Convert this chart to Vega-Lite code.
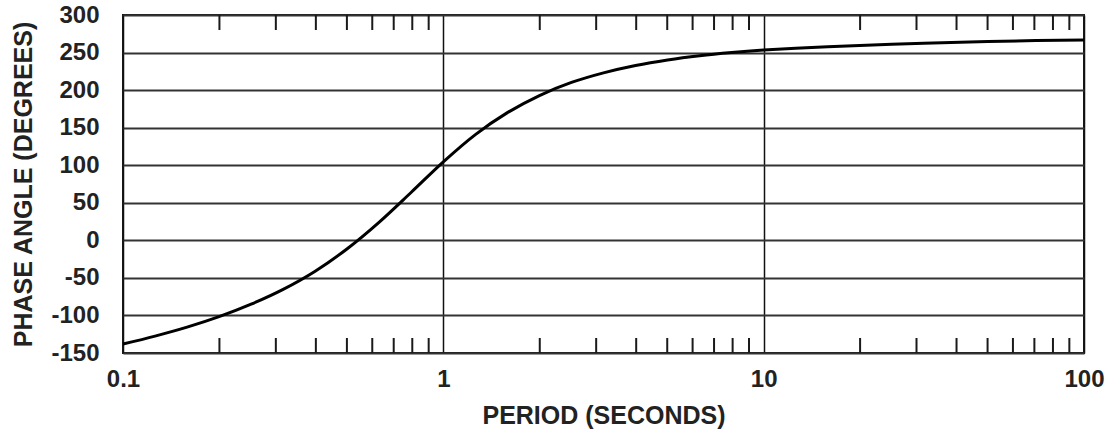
{
  "$schema": "https://vega.github.io/schema/vega-lite/v6.json",
  "width": 961,
  "height": 338,
  "autosize": {"type": "none"},
  "padding": {"left": 123, "top": 15, "right": 21, "bottom": 80},
  "background": "white",
  "config": {
    "view": {"stroke": "#1a1a1a", "strokeWidth": 2},
    "font": "Liberation Sans",
    "axis": {"labelOverlap": false}
  },
  "datasets": {
    "curve": [
      {"period": 0.1, "phase": -138},
      {"period": 0.1259, "phase": -127.5},
      {"period": 0.1585, "phase": -115.6},
      {"period": 0.1995, "phase": -101.6},
      {"period": 0.2512, "phase": -85.0},
      {"period": 0.3162, "phase": -65.3},
      {"period": 0.3981, "phase": -41.1},
      {"period": 0.5012, "phase": -11.2},
      {"period": 0.631, "phase": 24.3},
      {"period": 0.7943, "phase": 64.0},
      {"period": 1.0, "phase": 104.5},
      {"period": 1.259, "phase": 140.8},
      {"period": 1.585, "phase": 170.0},
      {"period": 1.995, "phase": 192.8},
      {"period": 2.512, "phase": 210.2},
      {"period": 3.162, "phase": 223.0},
      {"period": 3.981, "phase": 232.8},
      {"period": 5.012, "phase": 240.2},
      {"period": 6.31, "phase": 245.8},
      {"period": 7.943, "phase": 250.0},
      {"period": 10, "phase": 253.3},
      {"period": 12.59, "phase": 255.8},
      {"period": 15.85, "phase": 257.8},
      {"period": 19.95, "phase": 259.5},
      {"period": 25.12, "phase": 261.0},
      {"period": 31.62, "phase": 262.3},
      {"period": 50.12, "phase": 264.6},
      {"period": 70.8, "phase": 265.9},
      {"period": 100, "phase": 266.8}
    ],
    "minor": [
      {"period": 0.2}, {"period": 0.3}, {"period": 0.4}, {"period": 0.5}, {"period": 0.6}, {"period": 0.7}, {"period": 0.8}, {"period": 0.9},
      {"period": 2}, {"period": 3}, {"period": 4}, {"period": 5}, {"period": 6}, {"period": 7}, {"period": 8}, {"period": 9},
      {"period": 20}, {"period": 30}, {"period": 40}, {"period": 50}, {"period": 60}, {"period": 70}, {"period": 80}, {"period": 90}
    ]
  },
  "layer": [
    {
      "data": {"name": "curve"},
      "mark": {"type": "line", "color": "#000000", "strokeWidth": 3, "interpolate": "monotone"},
      "encoding": {
        "x": {
          "field": "period", "type": "quantitative",
          "scale": {"type": "log", "domain": [0.1, 100], "nice": false},
          "axis": {
            "values": [0.1, 1, 10, 100],
            "format": "~g",
            "grid": true, "gridColor": "#111111", "gridWidth": 1.5, "gridOpacity": 1,
            "ticks": false, "domain": false,
            "labelFont": "Liberation Sans", "labelFontWeight": "bold", "labelFontSize": 24,
            "labelColor": "#222222", "labelPadding": 14, "labelFlush": false, "labelOverlap": false,
            "title": "PERIOD (SECONDS)", "titleFont": "Liberation Sans", "titleFontWeight": "bold",
            "titleFontSize": 25, "titleColor": "#222222", "titlePadding": 12
          }
        },
        "y": {
          "field": "phase", "type": "quantitative",
          "scale": {"domain": [-150, 300], "nice": false, "zero": false},
          "axis": {
            "values": [-150, -100, -50, 0, 50, 100, 150, 200, 250, 300],
            "labelExpr": "datum.value + ''",
            "grid": true, "gridColor": "#333333", "gridWidth": 2, "gridOpacity": 1,
            "ticks": false, "domain": false,
            "labelFont": "Liberation Sans", "labelFontWeight": "bold", "labelFontSize": 24,
            "labelColor": "#222222", "labelPadding": 24, "labelOverlap": false, "labelBound": false,
            "title": "PHASE ANGLE (DEGREES)", "titleFont": "Liberation Sans", "titleFontWeight": "bold",
            "titleFontSize": 25, "titleColor": "#222222", "titlePadding": 14
          }
        }
      }
    },
    {
      "data": {"name": "minor"},
      "mark": {"type": "rule", "color": "#1a1a1a", "strokeWidth": 2},
      "encoding": {
        "x": {
          "field": "period", "type": "quantitative",
          "scale": {"type": "log", "domain": [0.1, 100], "nice": false},
          "axis": {
            "values": [0.1, 1, 10, 100],
            "format": "~g",
            "grid": true, "gridColor": "#111111", "gridWidth": 1.5, "gridOpacity": 1,
            "ticks": false, "domain": false,
            "labelFont": "Liberation Sans", "labelFontWeight": "bold", "labelFontSize": 24,
            "labelColor": "#222222", "labelPadding": 14, "labelFlush": false, "labelOverlap": false,
            "title": "PERIOD (SECONDS)", "titleFont": "Liberation Sans", "titleFontWeight": "bold",
            "titleFontSize": 25, "titleColor": "#222222", "titlePadding": 12
          }
        },
        "y": {
          "datum": 300, "type": "quantitative",
          "scale": {"domain": [-150, 300], "nice": false, "zero": false},
          "axis": {
            "values": [-150, -100, -50, 0, 50, 100, 150, 200, 250, 300],
            "labelExpr": "datum.value + ''",
            "grid": true, "gridColor": "#333333", "gridWidth": 2, "gridOpacity": 1,
            "ticks": false, "domain": false,
            "labelFont": "Liberation Sans", "labelFontWeight": "bold", "labelFontSize": 24,
            "labelColor": "#222222", "labelPadding": 24, "labelOverlap": false, "labelBound": false,
            "title": "PHASE ANGLE (DEGREES)", "titleFont": "Liberation Sans", "titleFontWeight": "bold",
            "titleFontSize": 25, "titleColor": "#222222", "titlePadding": 14
          }
        },
        "y2": {"datum": 280}
      }
    },
    {
      "data": {"name": "minor"},
      "mark": {"type": "rule", "color": "#1a1a1a", "strokeWidth": 2},
      "encoding": {
        "x": {
          "field": "period", "type": "quantitative",
          "scale": {"type": "log", "domain": [0.1, 100], "nice": false},
          "axis": {
            "values": [0.1, 1, 10, 100],
            "format": "~g",
            "grid": true, "gridColor": "#111111", "gridWidth": 1.5, "gridOpacity": 1,
            "ticks": false, "domain": false,
            "labelFont": "Liberation Sans", "labelFontWeight": "bold", "labelFontSize": 24,
            "labelColor": "#222222", "labelPadding": 14, "labelFlush": false, "labelOverlap": false,
            "title": "PERIOD (SECONDS)", "titleFont": "Liberation Sans", "titleFontWeight": "bold",
            "titleFontSize": 25, "titleColor": "#222222", "titlePadding": 12
          }
        },
        "y": {
          "datum": -150, "type": "quantitative",
          "scale": {"domain": [-150, 300], "nice": false, "zero": false},
          "axis": {
            "values": [-150, -100, -50, 0, 50, 100, 150, 200, 250, 300],
            "labelExpr": "datum.value + ''",
            "grid": true, "gridColor": "#333333", "gridWidth": 2, "gridOpacity": 1,
            "ticks": false, "domain": false,
            "labelFont": "Liberation Sans", "labelFontWeight": "bold", "labelFontSize": 24,
            "labelColor": "#222222", "labelPadding": 24, "labelOverlap": false, "labelBound": false,
            "title": "PHASE ANGLE (DEGREES)", "titleFont": "Liberation Sans", "titleFontWeight": "bold",
            "titleFontSize": 25, "titleColor": "#222222", "titlePadding": 14
          }
        },
        "y2": {"datum": -130}
      }
    }
  ]
}
